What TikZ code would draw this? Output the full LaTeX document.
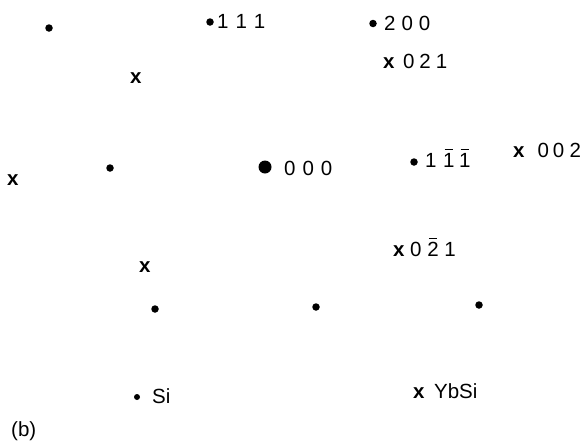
\documentclass[tikz,border=0pt]{standalone}
\usepackage{fontspec}
\setmainfont{Liberation Sans}
\newcommand\ob[1]{\leavevmode\setbox0\hbox{#1}\rlap{\hspace{1.5pt}\raisebox{\dimexpr\ht0+2.5pt\relax}{\rule{\dimexpr\wd0-3pt\relax}{1.4pt}}}\box0}
\newcommand\xm{\textbf{x}}
\tikzset{
  spot/.style={circle,fill=black,inner sep=0pt,minimum size=7.5pt},
  bigspot/.style={circle,fill=black,inner sep=0pt,minimum size=13pt},
  lab/.style={anchor=base west,inner sep=0pt,font=\fontsize{20.5}{24}\selectfont}
}
\begin{document}
\begin{tikzpicture}[x=1pt,y=-1pt]
\useasboundingbox (0,0) rectangle (583,442);
\node[spot] (d1) at (49,28) {};
\node[spot] (d111) at (210,22) {};
\node[lab] (l111) at (217,28.5) {1\hspace{7pt}1\hspace{7pt}1};
\node[spot] (d200) at (373,23.5) {};
\node[lab] (l200) at (384,30) {2\hspace{6pt}0\hspace{6pt}0};
\node[lab] (l021) at (383,68) {\xm\hspace{8.5pt}0\hspace{4.8pt}2\hspace{5.2pt}1};
\node[lab] (x1) at (130,83.5) {\xm};
\node[lab] (x2) at (7,185) {\xm};
\node[spot] (d2) at (110,168) {};
\node[bigspot] (d000) at (265,167) {};
\node[lab] (l000) at (284,175) {0\hspace{7pt}0\hspace{7pt}0};
\node[spot] (d1bb) at (414,162) {};
\node[lab] (l1bb) at (425,167) {1\hspace{6.5pt}\ob{1}\hspace{4.7pt}\ob{1}};
\node[lab] (l002) at (513,157) {\xm\hspace{13pt}0\hspace{3.8pt}0\hspace{5.5pt}2};
\node[lab] (x3) at (139,272) {\xm};
\node[lab] (l021b) at (393,256) {\xm\hspace{5.6pt}0\hspace{5.7pt}\ob{2}\hspace{5.7pt}1};
\node[spot] (d3) at (155,309) {};
\node[spot] (d4) at (316,307) {};
\node[spot] (d5) at (479,305) {};
\node[spot,minimum size=6pt] (lsi) at (137,397) {};
\node[lab] (tsi) at (152,403) {Si};
\node[lab] (lyb) at (413,398) {\xm\hspace{9.5pt}YbSi};
\node[lab] (lb) at (11,436) {(b)};
\end{tikzpicture}
\end{document}
